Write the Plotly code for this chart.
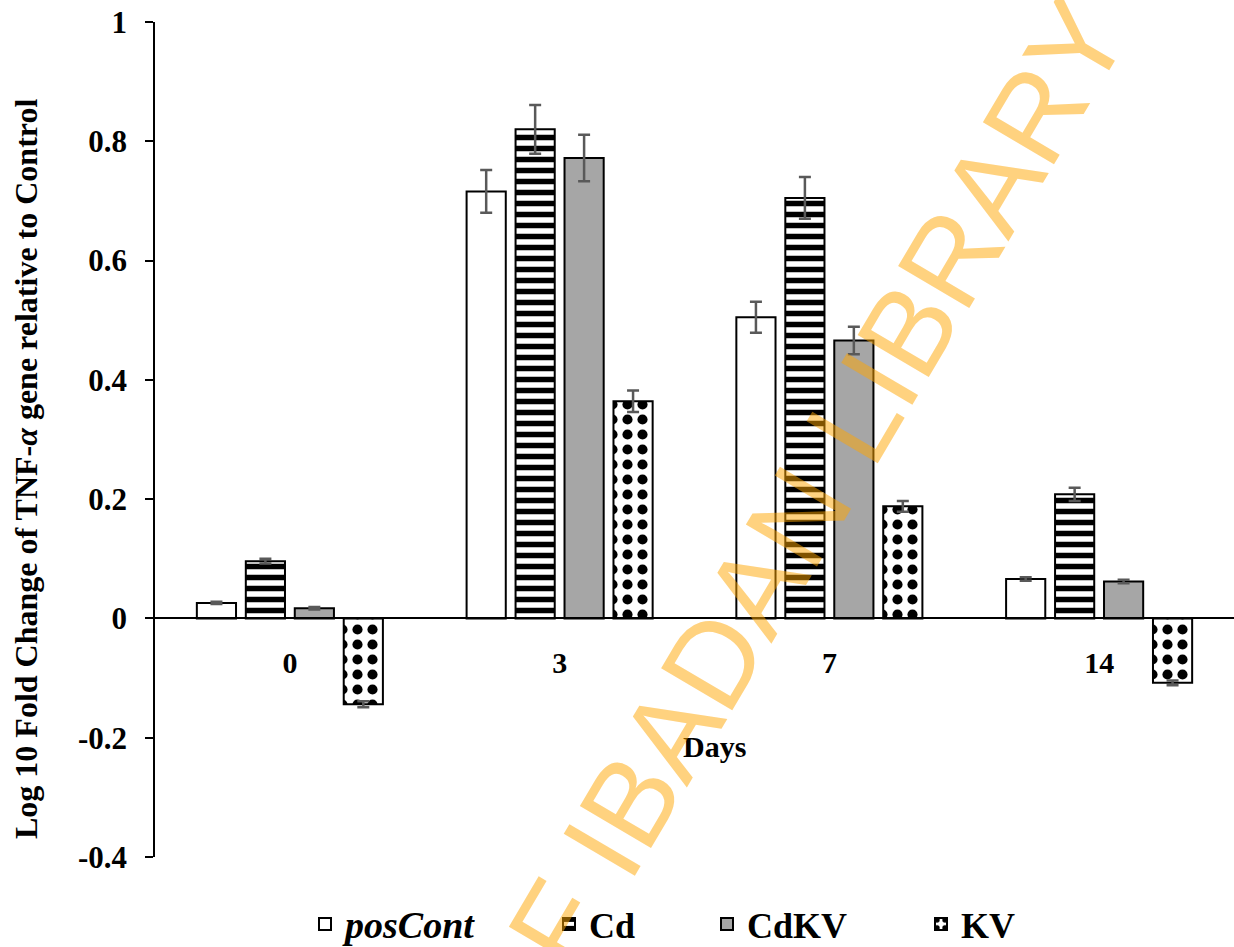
import plotly.graph_objects as go

days = ["0", "3", "7", "14"]
series_names = ["<i><span style='font-size:38px'>posCont</span></i>", "Cd", "CdKV", "KV"]
posCont = [0.026, 0.716, 0.505, 0.066]
posCont_err = [0.002, 0.036, 0.026, 0.003]
Cd = [0.096, 0.820, 0.705, 0.208]
Cd_err = [0.004, 0.041, 0.035, 0.011]
CdKV = [0.017, 0.772, 0.466, 0.062]
CdKV_err = [0.002, 0.039, 0.023, 0.003]
KV = [-0.144, 0.364, 0.188, -0.108]
KV_err = [0.005, 0.018, 0.009, 0.004]

y_tickvals = [-0.4, -0.2, 0, 0.2, 0.4, 0.6, 0.8, 1]
y_ticktext = ["-0.4", "-0.2", "0", "0.2", "0.4", "0.6", "0.8", "1"]
x_title = "Days"
y_title = "Log 10 Fold Change of TNF-<i>α</i> gene relative to Control"
watermark = "UNIVERSITY OF IBADAN LIBRARY"

W, H = 1234, 947
ML, MR, MT, MB = 155, 0, 22, 90
PW = W - ML - MR
PH = H - MT - MB

def px_x(p):
    return (p - ML) / PW

def px_y(p):
    return (H - MB - p) / PH

serif = "Liberation Serif"
err_color = "#595959"

styles = [
    dict(color="white", pattern=None),
    dict(color="white", pattern=dict(shape="-", fgcolor="black", bgcolor="white", size=11, solidity=0.5, fillmode="replace")),
    dict(color="#A6A6A6", pattern=None),
    dict(color="white", pattern=dict(shape=".", fgcolor="black", bgcolor="white", size=15, solidity=0.36, fillmode="replace")),
]
values = [posCont, Cd, CdKV, KV]
errors = [posCont_err, Cd_err, CdKV_err, KV_err]
legend_ids = ["legend", "legend2", "legend3", "legend4"]

fig = go.Figure()
for name, vals, errs, st, lg in zip(series_names, values, errors, styles, legend_ids):
    marker = dict(color=st["color"], line=dict(color="black", width=2))
    if st["pattern"] is not None:
        marker["pattern"] = st["pattern"]
    fig.add_trace(go.Bar(
        x=days, y=vals, name=name, marker=marker, legend=lg,
        error_y=dict(type="data", array=errs, color=err_color, thickness=2.5, width=6),
    ))

legend_left_px = [305, 549, 707, 921]
legend_common = dict(orientation="h", yanchor="middle", yref="container", xref="container",
                     y=(H - 924) / H, xanchor="left",
                     font=dict(family=serif, size=36, color="black", weight="bold"),
                     bgcolor="rgba(0,0,0,0)", borderwidth=0)
legends = {}
for lg, lx in zip(legend_ids, legend_left_px):
    legends[lg] = dict(legend_common, x=lx / W)

fig.update_layout(
    width=W, height=H,
    margin=dict(l=ML, r=MR, t=MT, b=MB, autoexpand=False),
    paper_bgcolor="white", plot_bgcolor="white",
    barmode="group", bargap=0.274, bargroupgap=0.2,
    showlegend=True,
    **legends,
)

fig.update_xaxes(
    type="category", anchor="free", position=0.4 / 1.4,
    showline=True, linecolor="black", linewidth=1.5,
    ticks="", showgrid=False, zeroline=False,
    tickfont=dict(family=serif, size=30, color="black", weight="bold"),
    ticklabelstandoff=18,
)
fig.update_yaxes(
    range=[-0.4, 1], tickvals=y_tickvals, ticktext=y_ticktext,
    showline=True, linecolor="black", linewidth=1.5,
    ticks="outside", ticklen=8, tickwidth=1.5, tickcolor="black",
    showgrid=False, zeroline=False,
    tickfont=dict(family=serif, size=31, color="black", weight="bold"),
    ticklabelstandoff=12,
)

fig.add_annotation(
    text=x_title, xref="paper", yref="paper",
    x=px_x(715), y=px_y(746), xanchor="center", yanchor="middle", showarrow=False,
    font=dict(family=serif, size=30, color="black", weight="bold"),
)
fig.add_annotation(
    text=y_title, xref="paper", yref="paper", textangle=-90,
    x=px_x(26), y=px_y(469), xanchor="center", yanchor="middle", showarrow=False,
    font=dict(family=serif, size=32, color="black", weight="bold"),
)
fig.add_annotation(
    text=watermark, xref="paper", yref="paper",
    x=px_x(603), y=px_y(847), xanchor="center", yanchor="middle",
    textangle=-59.5, showarrow=False,
    font=dict(family="Liberation Sans", size=120, color="rgba(255,165,0,0.5)"),
)

fig.write_html("out.html", config={"displayModeBar": False},
               post_script="document.body.style.margin='0px';document.body.style.overflow='hidden';")
